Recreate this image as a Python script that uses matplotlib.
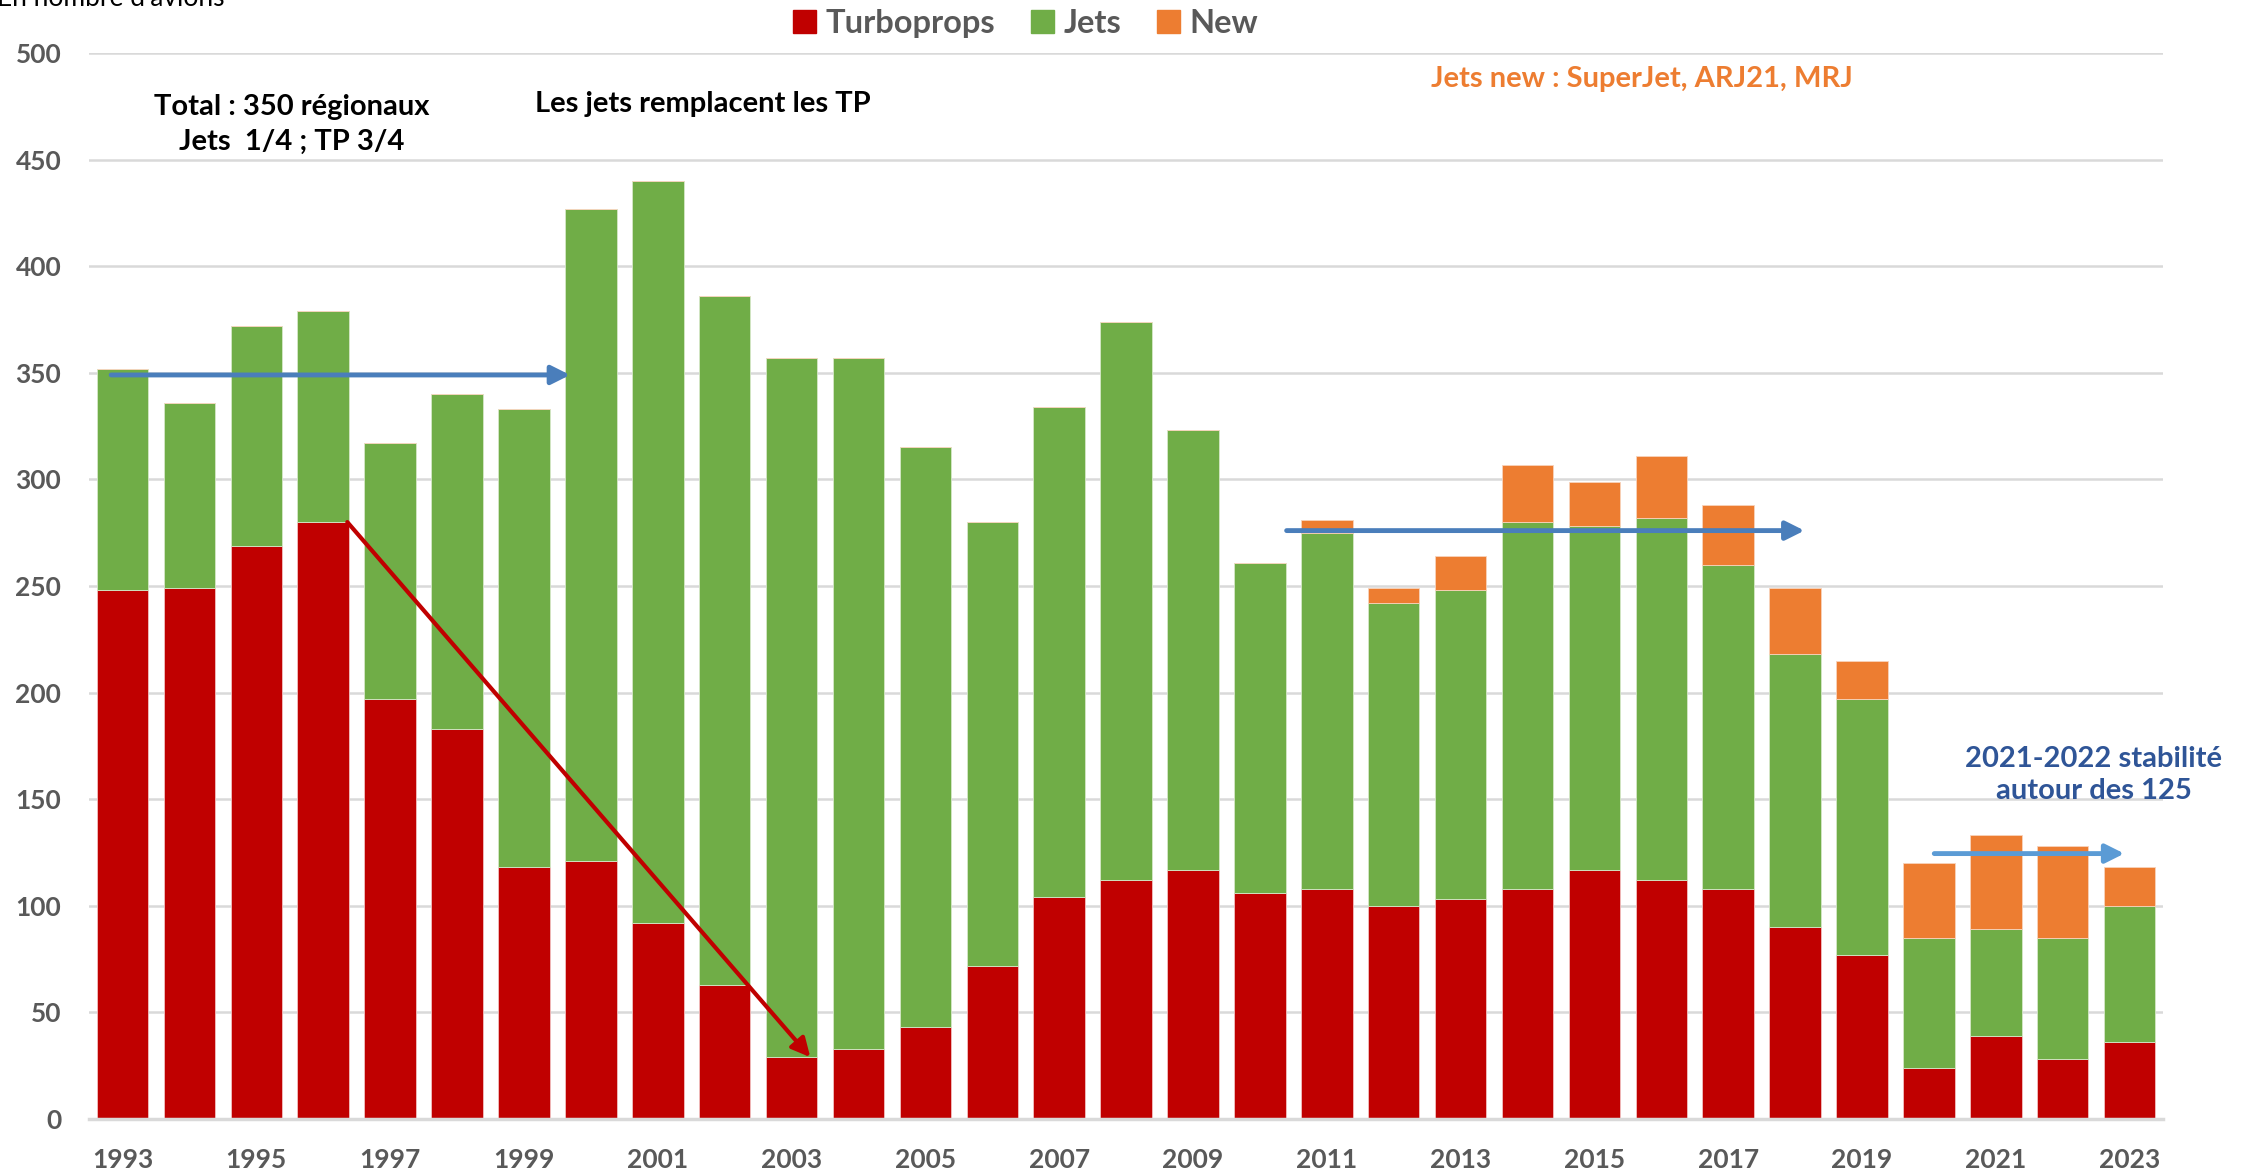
import numpy as np
import matplotlib
matplotlib.use("Agg")
import matplotlib.pyplot as plt
from matplotlib.patches import Patch

plt.rcParams['font.family'] = ['Lato', 'DejaVu Sans']

# data (number of aircraft)
years = list(range(1993, 2024))
turboprops = [248, 249, 269, 280, 197, 183, 118, 121, 92, 63, 29, 33, 43, 72, 104, 112,
              117, 106, 108, 100, 103, 108, 117, 112, 108, 90, 77, 24, 39, 28, 36]
jets = [104, 87, 103, 99, 120, 157, 215, 306, 348, 323, 328, 324, 272, 208, 230, 262,
        206, 155, 167, 142, 145, 172, 161, 170, 152, 128, 120, 61, 50, 57, 64]
new = [0, 0, 0, 0, 0, 0, 0, 0, 0, 0, 0, 0, 0, 0, 0, 0,
       0, 0, 6, 7, 16, 27, 21, 29, 28, 31, 18, 35, 44, 43, 18]
year_labels = [str(y) if (y - 1993) % 2 == 0 else "" for y in years]

RED = "#C00000"
GREEN = "#70AD47"
ORANGE = "#ED7D31"
GRAY = "#595959"

fig = plt.figure(figsize=(22.49, 11.71), dpi=100)
ax = fig.add_axes([0.0396, 0.0444, 0.9222, 0.9103])

x = np.arange(len(years))
tp = np.array(turboprops)
jt = np.array(jets)
nw = np.array(new)
w = 0.77
ax.bar(x, tp, w, color=RED, edgecolor="#f2c0c0", linewidth=0.6, zorder=2)
ax.bar(x, jt, w, bottom=tp, color=GREEN, edgecolor="#d5e8c8", linewidth=0.6, zorder=2)
ax.bar(x, nw, w, bottom=tp + jt, color=ORANGE, edgecolor="#f8d3bb", linewidth=0.6, zorder=2)

ax.set_xlim(-0.5, len(years) - 0.5)
ax.set_ylim(0, 500)
ax.set_yticks(range(0, 501, 50))
ax.set_xticks(x)
ax.set_xticklabels(year_labels)
ax.yaxis.grid(True, color="#D9D9D9", linewidth=1.8, zorder=0)
ax.set_axisbelow(True)
for s in ["top", "right", "left"]:
    ax.spines[s].set_visible(False)
ax.spines["bottom"].set_color("#D9D9D9")
ax.spines["bottom"].set_linewidth(2.5)
ax.tick_params(axis="both", length=0, labelsize=19, labelcolor=GRAY)
ax.tick_params(axis="x", pad=21)
ax.tick_params(axis="y", pad=20)
for lab in ax.get_xticklabels() + ax.get_yticklabels():
    lab.set_fontweight("bold")

# arrows
def arrow(x0, y0, x1, y1, color, lw=3.5):
    ax.annotate("", xy=(x1, y1), xytext=(x0, y0),
                arrowprops=dict(arrowstyle="-|>", color=color, lw=lw,
                                mutation_scale=28, shrinkA=0, shrinkB=0),
                zorder=5)

arrow(-0.17, 349, 6.69, 349, "#4A7EBB")
arrow(3.36, 280, 10.28, 29, RED, lw=3)
arrow(17.4, 276, 25.14, 276, "#4A7EBB")
arrow(27.08, 124.5, 29.92, 124.5, "#5B9BD5")

# annotations
ax.text(2.53, 466.5, "Total : 350 régionaux\nJets  1/4 ; TP 3/4", ha="center", va="center",
        fontsize=21, fontweight="bold", color="black", linespacing=1.45, zorder=6)
ax.text(8.68, 476, "Les jets remplacent les TP", ha="center", va="center",
        fontsize=21, fontweight="bold", color="black", zorder=6)
ax.text(22.71, 488, "Jets new : SuperJet, ARJ21, MRJ", ha="center", va="center",
        fontsize=21, fontweight="bold", color=ORANGE, zorder=6)
ax.text(29.46, 161.5, "2021-2022 stabilité\nautour des 125", ha="center", va="center",
        fontsize=21, fontweight="bold", color="#2F5597", linespacing=1.3, zorder=6,
        clip_on=False)

fig.text(0.100, 0.995, "En nombre d'avions", ha="right", va="baseline",
         fontsize=19, color="black")

handles = [Patch(color=RED), Patch(color=GREEN), Patch(color=ORANGE)]
leg = fig.legend(handles, ["Turboprops", "Jets", "New"], loc="center",
                 bbox_to_anchor=(0.456, 0.980), ncol=3, frameon=False,
                 handlelength=0.7, handleheight=0.7, handletextpad=0.3,
                 columnspacing=1.1, prop={"size": 23.5, "weight": "bold"})
for t in leg.get_texts():
    t.set_color(GRAY)

fig.savefig("out.png", dpi=100)
